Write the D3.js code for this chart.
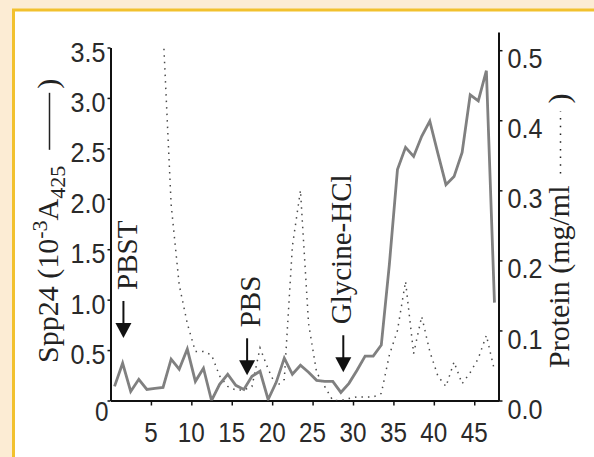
<!DOCTYPE html>
<html>
<head>
<meta charset="utf-8">
<script src="https://cdn.jsdelivr.net/npm/d3@7"></script>
<style>
  html, body { margin: 0; padding: 0; background: #fcecd4; }
  svg { display: block; }
</style>
</head>
<body>
<div id="chart"></div>
<script>
// fraction numbers
var fractions = [1, 2, 3, 4, 5, 6, 7, 8, 9, 10, 11, 12, 13, 14, 15, 16, 17, 18, 19, 20, 21, 22, 23, 24,
  25, 26, 27, 28, 29, 30, 31, 32, 33, 34, 35, 36, 37, 38, 39, 40, 41, 42, 43, 44, 45, 46, 47, 48];

// Spp24 (10^-3 A425), solid line, left axis
var spp24 = [0.14, 0.37, 0.09, 0.21, 0.11, 0.12, 0.13, 0.41, 0.31, 0.51, 0.19, 0.32, 0.00, 0.16,
  0.26, 0.15, 0.11, 0.24, 0.29, 0.01, 0.18, 0.42, 0.26, 0.35, 0.28, 0.20, 0.19, 0.19, 0.08, 0.17,
  0.30, 0.44, 0.44, 0.55, 1.35, 2.29, 2.51, 2.42, 2.62, 2.77, 2.45, 2.14, 2.22, 2.46, 3.03, 2.97,
  3.27, 0.97];

// protein (mg/ml), dotted line, right axis (measured from fraction 7)
var proteinFractions = [7, 8, 9, 10, 11, 12, 13, 14, 15, 16, 17, 18, 19, 20, 21, 22, 23, 24, 25, 26,
  27, 28, 29, 30, 31, 32, 33, 34, 35, 36, 37, 38, 39, 40, 41, 42, 43, 44, 45, 46, 47, 48];
var protein = [0.53, 0.28, 0.165, 0.11, 0.07, 0.07, 0.065, 0.035, 0.02, 0.015, 0.015, 0.02, 0.075,
  0.045, 0.02, 0.03, 0.22, 0.30, 0.11, 0.04, 0.02, 0.0, 0.0, 0.003, 0.005, 0.005, 0.005, 0.01,
  0.065, 0.10, 0.17, 0.067, 0.12, 0.07, 0.035, 0.02, 0.055, 0.024, 0.04, 0.06, 0.093, 0.043];

// ticks
var xTicks = [5, 10, 15, 20, 25, 30, 35, 40, 45];
var leftTicks = [0, 0.5, 1.0, 1.5, 2.0, 2.5, 3.0, 3.5];
var leftLabels = ["0", "0.5", "1.0", "1.5", "2.0", "2.5", "3.0", "3.5"];
var rightTicks = [0, 0.1, 0.2, 0.3, 0.4, 0.5];
var rightLabels = ["0.0", "0.1", "0.2", "0.3", "0.4", "0.5"];

// buffer annotations: label, fraction, arrow tip (left axis units)
var annLabels = ["PBST", "PBS", "Glycine-HCl"];
var annFraction = [1.6, 16.9, 28.8];
var annTip = [0.62, 0.25, 0.28];
var annShift = [14, 13, 8];

var W = 594, H = 457;
var sans = "'Liberation Sans', Arial, sans-serif";
var serif = "'Liberation Serif', 'Times New Roman', serif";

var svg = d3.select("#chart").append("svg")
  .attr("width", W)
  .attr("height", H);

svg.append("rect").attr("width", W).attr("height", H).attr("fill", "#fcecd4");
svg.append("rect")
  .attr("x", 13.5).attr("y", 10)
  .attr("width", W).attr("height", H)
  .attr("fill", "#ffffff")
  .attr("stroke", "#f2c12e")
  .attr("stroke-width", 3);

var x = d3.scaleLinear().domain([0, 48]).range([110.5, 498.5]);
var yL = d3.scaleLinear().domain([0, 3.5]).range([400.5, 47.5]);
var yR = d3.scaleLinear().domain([0, 0.526]).range([400.5, 32]);

svg.append("clipPath").attr("id", "plot")
  .append("rect")
  .attr("x", x(0)).attr("y", yL(3.5))
  .attr("width", x(48) - x(0)).attr("height", yL(0) - yL(3.5));

// axes
function styleAxis(g) {
  g.select(".domain").attr("stroke", "#111").attr("stroke-width", 2);
  g.selectAll(".tick line").attr("stroke", "#111").attr("stroke-width", 1.5);
  g.selectAll(".tick text").remove();
}

svg.append("g")
  .attr("transform", "translate(" + x(0) + ",0)")
  .call(d3.axisLeft(yL).tickValues(leftTicks).tickSize(3).tickSizeOuter(0))
  .call(styleAxis);

svg.append("g")
  .attr("transform", "translate(" + x(48) + ",0)")
  .call(d3.axisRight(yR).tickValues(rightTicks).tickSize(4).tickSizeOuter(0))
  .call(styleAxis);

svg.append("g")
  .attr("transform", "translate(0," + yL(0) + ")")
  .call(d3.axisBottom(x).tickValues(xTicks).tickSize(5).tickSizeOuter(0))
  .call(styleAxis);

// tick labels (narrow digits like the original)
function labelWidth(s) {
  return s.split("").reduce(function (a, c) { return a + (c === "." ? 8 : 13.5); }, 0);
}
function tickLabel(s, px, py, anchor) {
  svg.append("text")
    .attr("x", px).attr("y", py)
    .attr("dy", "0.36em")
    .attr("text-anchor", anchor)
    .attr("font-family", sans)
    .attr("font-size", 28)
    .attr("fill", "#2a2a2a")
    .attr("textLength", labelWidth(s))
    .attr("lengthAdjust", "spacingAndGlyphs")
    .text(s);
}

leftTicks.forEach(function (v, i) {
  if (v === 0) tickLabel(leftLabels[i], x(0) - 2, yL(0) + 10, "end");
  else tickLabel(leftLabels[i], x(0) - 5, yL(v) + 4, "end");
});
rightTicks.forEach(function (v, i) {
  tickLabel(rightLabels[i], x(48) + 9, yR(v) + 8, "start");
});
xTicks.forEach(function (v) {
  tickLabel(String(v), x(v), yL(0) + 31.5, "middle");
});

// data lines
var plot = svg.append("g").attr("clip-path", "url(#plot)");

plot.append("path")
  .datum(protein)
  .attr("fill", "none")
  .attr("stroke", "#4a4a4a")
  .attr("stroke-width", 1.5)
  .attr("stroke-dasharray", "1.5,5")
  .attr("d", d3.line()
    .x(function (d, i) { return x(proteinFractions[i] - 0.5); })
    .y(function (d) { return yR(d); }));

plot.append("path")
  .datum(spp24)
  .attr("fill", "none")
  .attr("stroke", "#808080")
  .attr("stroke-width", 2.8)
  .attr("stroke-linejoin", "miter")
  .attr("d", d3.line()
    .x(function (d, i) { return x(fractions[i] - 0.5); })
    .y(function (d) { return yL(d); }));

// arrows with buffer labels
annLabels.forEach(function (lab, i) {
  var ax = x(annFraction[i]);
  var tip = yL(annTip[i]);
  svg.append("line")
    .attr("x1", ax).attr("x2", ax)
    .attr("y1", tip - 37).attr("y2", tip - 12)
    .attr("stroke", "#111").attr("stroke-width", 2);
  svg.append("path")
    .attr("d", "M" + (ax - 8) + "," + (tip - 15) + "L" + (ax + 8) + "," + (tip - 15) + "L" + ax + "," + tip + "Z")
    .attr("fill", "#111");
  svg.append("text")
    .attr("transform", "translate(" + (ax + annShift[i]) + "," + (tip - 48) + ") rotate(-90)")
    .attr("font-family", serif)
    .attr("font-size", 29)
    .attr("fill", "#222")
    .text(lab);
});

// axis titles
function vTitle(bx, by, parts, gap1, lineLen, dashed, gap2) {
  var g = svg.append("g").attr("transform", "translate(" + bx + "," + by + ") rotate(-90)");
  var t = g.append("text")
    .attr("font-family", serif)
    .attr("font-size", 30)
    .attr("fill", "#222");
  parts.forEach(function (p) {
    var ts = t.append("tspan").text(p.t);
    if (p.size) ts.attr("font-size", p.size);
    if (p.dy) ts.attr("dy", p.dy);
  });
  var len = t.node().getComputedTextLength();
  var ln = g.append("line")
    .attr("x1", len + gap1).attr("x2", len + gap1 + lineLen)
    .attr("y1", -8.5).attr("y2", -8.5)
    .attr("stroke", "#222");
  if (dashed) ln.attr("stroke-width", 1.5).attr("stroke-dasharray", "1.5,6.2");
  else ln.attr("stroke-width", 1.5);
  g.append("text")
    .attr("x", len + gap1 + lineLen + gap2)
    .attr("font-family", serif)
    .attr("font-size", 30)
    .attr("fill", "#222")
    .text(")");
}

vTitle(58, 363, [
  { t: "Spp24 (10" },
  { t: "-3", size: 22, dy: -11 },
  { t: "A", size: 30, dy: 11 },
  { t: "425", size: 22, dy: 7 }
], 16, 57, false, 4);

vTitle(569, 368, [{ t: "Protein (mg/ml" }], 12, 62, true, 8);
</script>
</body>
</html>
